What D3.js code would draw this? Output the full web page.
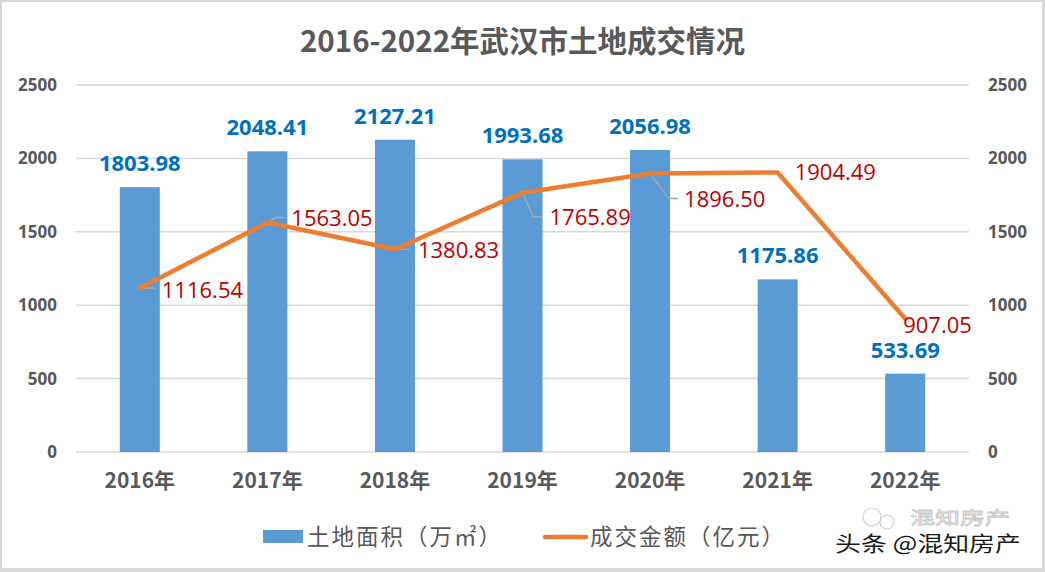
<!DOCTYPE html>
<html>
<head>
<meta charset="utf-8">
<script src="https://cdn.jsdelivr.net/npm/d3@7"></script>
<style>
  html, body { margin: 0; padding: 0; background: #fff; }
  svg { display: block; }
</style>
</head>
<body>
<svg id="chart" width="1045" height="572"></svg>
<script>
// ---- data ----
const years = ["2016年", "2017年", "2018年", "2019年", "2020年", "2021年", "2022年"];
const landArea = [1803.98, 2048.41, 2127.21, 1993.68, 2056.98, 1175.86, 533.69];   // 土地面积（万㎡）
const dealAmount = [1116.54, 1563.05, 1380.83, 1765.89, 1896.50, 1904.49, 907.05]; // 成交金额（亿元）
const axisTicks = [0, 500, 1000, 1500, 2000, 2500];
const titleText = "2016-2022年武汉市土地成交情况";
const legendLabels = ["土地面积（万㎡）", "成交金额（亿元）"];

// ---- layout (not data) ----
const W = 1045, H = 572;
const plot = { left: 76, right: 969, top: 85, bottom: 452 };
// label placement for line labels
const lineLabelLayout = [
  { dx: 22, dy: 2, leader: [[0, 0], [15, 0]] },
  { dx: 24, dy: -4, leader: [[0, 0], [8, -5], [17, -5]] },
  { dx: 23, dy: 1, leader: [[0, 0], [15, 0]] },
  { dx: 27, dy: 25, leader: [[0, 0], [11, 24], [20, 24]] },
  { dx: 34, dy: 26, leader: [[0, 0], [19, 25], [28, 25]] },
  { dx: 17, dy: 0, leader: null },
  { dx: -2, dy: 6, leader: null }
];

const svg = d3.select("#chart");

// frame
svg.append("rect").attr("x", 0).attr("y", 0).attr("width", W).attr("height", H).attr("fill", "#d9d9d9");
svg.append("rect").attr("x", 2).attr("y", 2).attr("width", W - 5).attr("height", H - 6).attr("fill", "#fff");

const x = d3.scaleBand().domain(years).range([plot.left, plot.right]).paddingInner(0.686).paddingOuter(0.343);
const y = d3.scaleLinear().domain([0, 2500]).range([plot.bottom, plot.top]);
const cx = d => x(d) + x.bandwidth() / 2;

const numFont = "'Open Sans', 'Noto Sans CJK SC', sans-serif";
const cjkFont = "'Noto Sans CJK SC', 'Open Sans', sans-serif";

// gridlines
svg.append("g").selectAll("line").data(axisTicks).join("line")
  .attr("x1", plot.left).attr("x2", plot.right)
  .attr("y1", d => y(d)).attr("y2", d => y(d))
  .attr("stroke", "#d9d9d9").attr("stroke-width", 1.5);

// left axis
const leftAxis = svg.append("g").attr("transform", `translate(${plot.left},0)`)
  .call(d3.axisLeft(y).tickValues(axisTicks).tickSize(0).tickPadding(19).tickFormat(d3.format("d")));
leftAxis.select(".domain").remove();
leftAxis.selectAll("text").attr("font-family", numFont).attr("font-size", 17).attr("font-weight", "bold").attr("fill", "#595959");

// right axis
const rightAxis = svg.append("g").attr("transform", `translate(${plot.right},0)`)
  .call(d3.axisRight(y).tickValues(axisTicks).tickSize(0).tickPadding(19).tickFormat(d3.format("d")));
rightAxis.select(".domain").remove();
rightAxis.selectAll("text").attr("font-family", numFont).attr("font-size", 17).attr("font-weight", "bold").attr("fill", "#595959");

// bottom axis
const bottomAxis = svg.append("g").attr("transform", `translate(0,${plot.bottom})`)
  .call(d3.axisBottom(x).tickSize(0).tickPadding(21));
bottomAxis.select(".domain").remove();
bottomAxis.selectAll("text").attr("font-family", cjkFont).attr("font-size", 21).attr("font-weight", "bold").attr("fill", "#595959");

// bars
svg.append("g").selectAll("rect").data(years).join("rect")
  .attr("x", d => x(d)).attr("width", x.bandwidth())
  .attr("y", (d, i) => y(landArea[i]))
  .attr("height", (d, i) => y(0) - y(landArea[i]))
  .attr("fill", "#5B9BD5");

// bar labels
svg.append("g").selectAll("text").data(years).join("text")
  .attr("x", d => cx(d))
  .attr("y", (d, i) => y(landArea[i]) - 16)
  .attr("text-anchor", "middle")
  .attr("font-family", numFont).attr("font-size", 22).attr("font-weight", "bold")
  .attr("fill", "#0070C0")
  .text((d, i) => landArea[i].toFixed(2));

// leader lines
const leaderGen = d3.line();
svg.append("g").selectAll("path").data(years.filter((d, i) => lineLabelLayout[i].leader)).join("path")
  .attr("d", d => {
    const i = years.indexOf(d);
    const px = cx(d), py = y(dealAmount[i]);
    return leaderGen(lineLabelLayout[i].leader.map(p => [px + p[0], py + p[1]]));
  })
  .attr("fill", "none").attr("stroke", "#a6a6a6").attr("stroke-width", 1.5);

// line
const lineGen = d3.line().x((d, i) => cx(years[i])).y(d => y(d));
svg.append("path").datum(dealAmount)
  .attr("d", lineGen)
  .attr("fill", "none").attr("stroke", "#ED7D31").attr("stroke-width", 4.5)
  .attr("stroke-linejoin", "round").attr("stroke-linecap", "round");

// line labels
svg.append("g").selectAll("text").data(years).join("text")
  .attr("x", (d, i) => cx(d) + lineLabelLayout[i].dx)
  .attr("y", (d, i) => y(dealAmount[i]) + lineLabelLayout[i].dy)
  .attr("dy", "0.35em")
  .attr("font-family", numFont).attr("font-size", 22)
  .attr("fill", "#C00000")
  .text((d, i) => dealAmount[i].toFixed(2));

// title
svg.append("text").attr("x", W / 2).attr("y", 52).attr("text-anchor", "middle")
  .attr("font-family", cjkFont).attr("font-size", 29.5).attr("font-weight", "bold")
  .attr("fill", "#595959").text(titleText);

// legend
const lg = svg.append("g");
lg.append("rect").attr("x", 263).attr("y", 530).attr("width", 40).attr("height", 13).attr("fill", "#5B9BD5");
lg.append("text").attr("x", 307).attr("y", 537).attr("dy", "0.35em")
  .attr("font-family", cjkFont).attr("font-size", 22.5).attr("fill", "#595959")
  .attr("letter-spacing", 2).text(legendLabels[0]);
lg.append("line").attr("x1", 545).attr("x2", 586).attr("y1", 537).attr("y2", 537)
  .attr("stroke", "#ED7D31").attr("stroke-width", 4.5).attr("stroke-linecap", "round");
lg.append("text").attr("x", 590).attr("y", 537).attr("dy", "0.35em")
  .attr("font-family", cjkFont).attr("font-size", 22.5).attr("fill", "#595959")
  .attr("letter-spacing", 2).text(legendLabels[1]);

// watermark
const wm = svg.append("g");
wm.append("circle").attr("cx", 872).attr("cy", 517).attr("r", 9).attr("fill", "none").attr("stroke", "#d0d0d0").attr("stroke-width", 1.2);
wm.append("circle").attr("cx", 887).attr("cy", 522).attr("r", 7).attr("fill", "none").attr("stroke", "#d0d0d0").attr("stroke-width", 1.2);
wm.append("text").attr("x", 910).attr("y", 524).attr("font-family", cjkFont).attr("font-size", 17)
  .attr("textLength", 100).attr("lengthAdjust", "spacingAndGlyphs")
  .attr("fill", "none").attr("stroke", "#c8c8c8").attr("stroke-width", 0.8).text("混知房产");
wm.append("text").attr("x", 835).attr("y", 551).attr("font-family", cjkFont).attr("font-size", 21)
  .attr("textLength", 186).attr("lengthAdjust", "spacingAndGlyphs")
  .attr("fill", "#1a1a1a").text("头条 @混知房产");
</script>
</body>
</html>
